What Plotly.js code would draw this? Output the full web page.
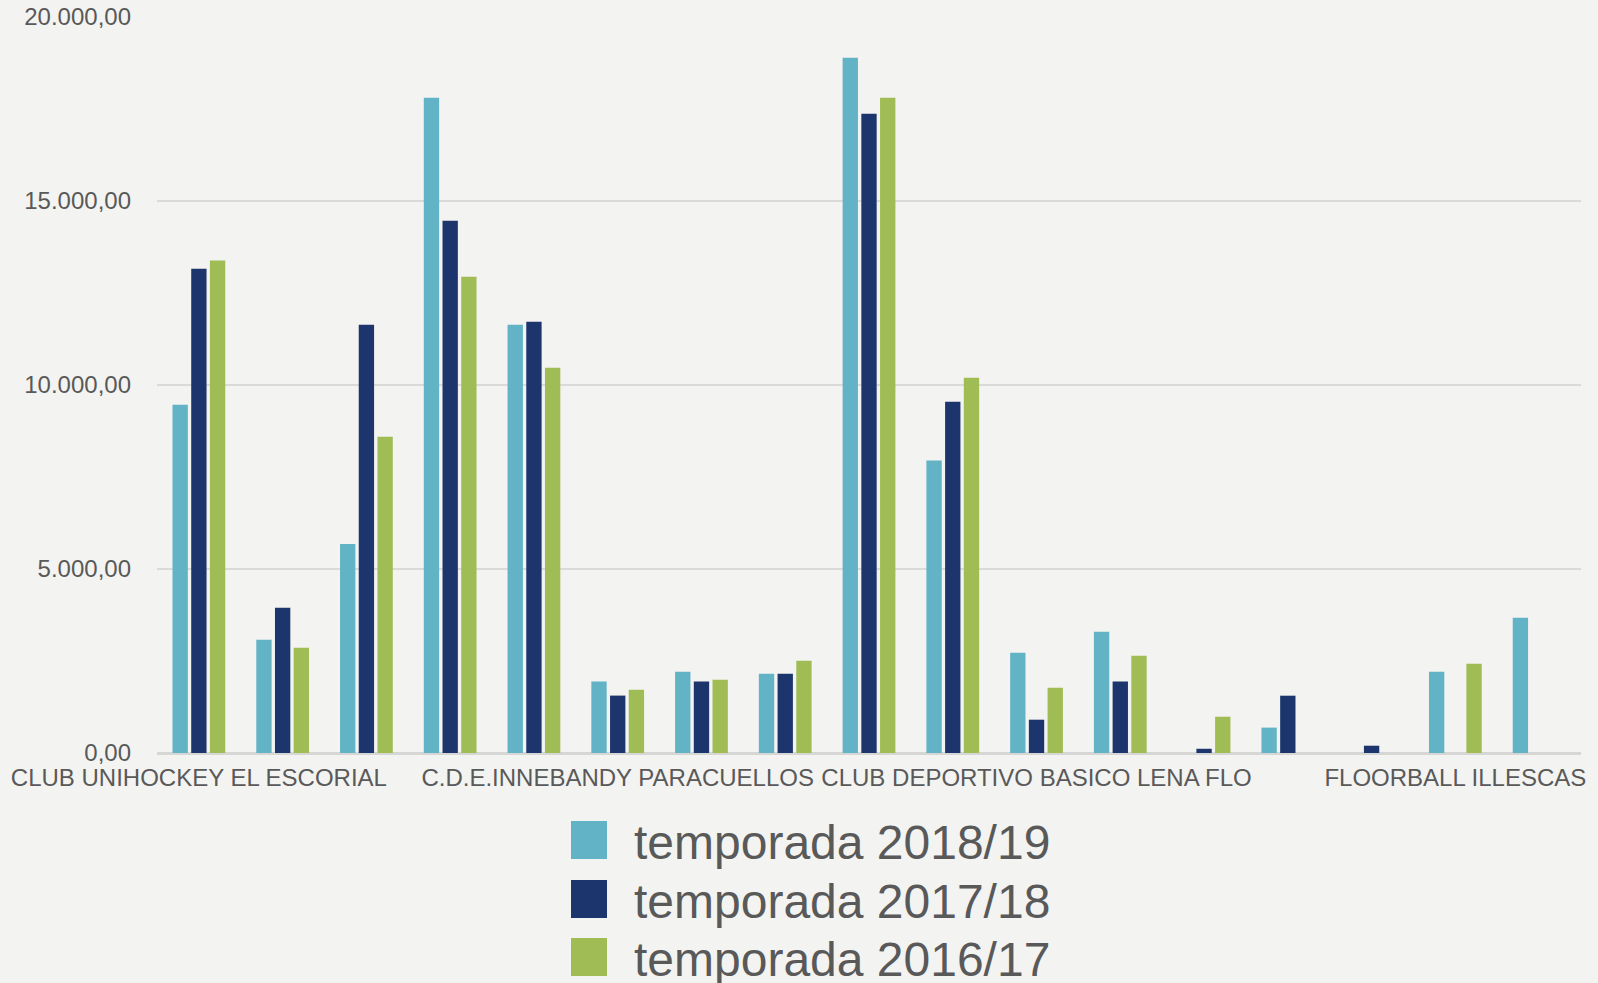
<!DOCTYPE html>
<html>
<head>
<meta charset="utf-8">
<script src="https://cdn.plot.ly/plotly-3.0.1.min.js"></script>
<style>
  html, body { margin: 0; padding: 0; background: #f3f3f1; }
  #chart { width: 1598px; height: 983px; }
</style>
</head>
<body>
<div id="chart"></div>
<script>
// Category positions (17 clubs); only every fifth club name is printed on the axis
const clubIndex = [0,1,2,3,4,5,6,7,8,9,10,11,12,13,14,15,16];
const labelPositions = [0, 5, 10, 15];
const tickLabels = ["CLUB UNIHOCKEY EL ESCORIAL", "C.D.E.INNEBANDY PARACUELLOS", "CLUB DEPORTIVO BASICO LENA FLO", "FLOORBALL ILLESCAS"];

const seriesNames = ["temporada 2018/19", "temporada 2017/18", "temporada 2016/17"];
const seriesColors = ["#63b3c7", "#1c366d", "#a0bc55"];

const season2018 = [9465, 3080, 5680, 17805, 11640, 1940, 2210, 2155, 18895, 7945, 2725, 3295, 0, 690, 0, 2210, 3677];
const season2017 = [13160, 3950, 11640, 14465, 11720, 1560, 1940, 2155, 17372, 9546, 905, 1940, 115, 1557, 198, 0, 0];
const season2016 = [13380, 2860, 8595, 12943, 10470, 1720, 1990, 2510, 17807, 10198, 1775, 2644, 986, 0, 0, 2427, 0];

const allSeries = [season2018, season2017, season2016];

const traces = allSeries.map((vals, i) => ({
  type: "bar",
  name: seriesNames[i],
  x: clubIndex,
  y: vals,
  marker: { color: seriesColors[i], line: { width: 0 } },
  hoverinfo: "x+y+name"
}));

const margin = { l: 157, r: 17, t: 17, b: 230 };
const plotH = 983 - margin.t - margin.b;
const plotW = 1598 - margin.l - margin.r;
function py(yPix) { return (983 - margin.b - yPix) / plotH; }
function px(xPix) { return (xPix - margin.l) / plotW; }

// Hand-built legend (large swatches like the original)
const shapes = [];
const annotations = [];
const rowCenters = [840, 899, 957];
seriesNames.forEach((n, i) => {
  const yc = rowCenters[i];
  shapes.push({
    type: "rect", xref: "paper", yref: "paper",
    x0: px(571), x1: px(607),
    y0: py(yc + 19), y1: py(yc - 19),
    line: { width: 0 }, fillcolor: seriesColors[i]
  });
  annotations.push({
    xref: "paper", yref: "paper",
    x: px(632), xanchor: "left",
    y: py(yc + 2), yanchor: "middle",
    text: n, showarrow: false,
    font: { family: "Liberation Sans, Arial, sans-serif", size: 48, color: "#595959" }
  });
});

const layout = {
  width: 1598, height: 983,
  margin: margin,
  paper_bgcolor: "#f3f3f1",
  plot_bgcolor: "#f3f3f1",
  separators: ",.",
  barmode: "group",
  bargap: 0.33,
  bargroupgap: 0.18,
  showlegend: false,
  font: { family: "Liberation Sans, Arial, sans-serif", color: "#595959" },
  xaxis: {
    type: "linear",
    range: [-0.5, 16.5],
    tickvals: labelPositions,
    ticktext: tickLabels,
    showgrid: false,
    zeroline: false,
    showline: false,
    ticks: "",
    tickfont: { size: 24, color: "#595959" },
    ticklabelstandoff: 8
  },
  yaxis: {
    range: [0, 20000],
    tickvals: [0, 5000, 10000, 15000, 20000],
    tickformat: ",.2f",
    showgrid: true,
    gridcolor: "#dadad8",
    gridwidth: 2,
    zeroline: true,
    zerolinecolor: "#d6d6d4",
    zerolinewidth: 3,
    showline: false,
    ticks: "",
    tickfont: { size: 24, color: "#595959" },
    ticklabelstandoff: 25
  },
  shapes: shapes,
  annotations: annotations
};

Plotly.newPlot("chart", traces, layout, { displayModeBar: false });
</script>
</body>
</html>
